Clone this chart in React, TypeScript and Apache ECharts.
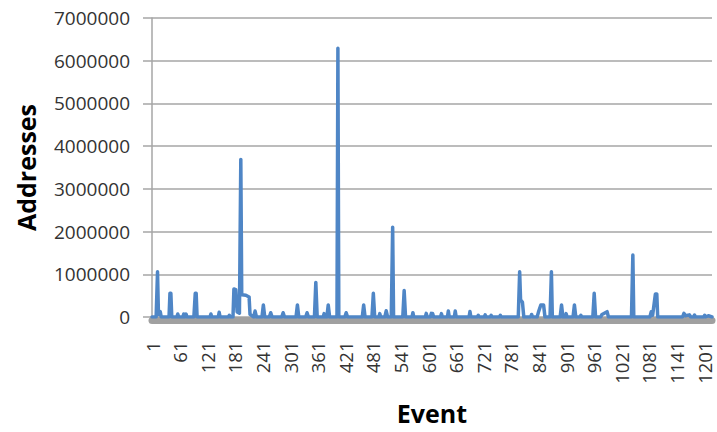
import React, { useEffect, useRef } from "react";
import * as echarts from "echarts";

// Event number at each plotted point
const eventIds: number[] = [
  1, 10, 13, 15, 19, 21, 38, 40, 42, 44, 55, 57, 59, 68, 70, 72, 73, 75, 77,
  92, 95, 97, 99, 127, 129, 131, 145, 147, 149, 167, 169, 171,
  177, 179, 183, 186, 191, 194, 196, 205, 212, 214, 222, 225, 228,
  240, 243, 246, 256, 259, 262, 283, 286, 289, 314, 317, 320, 335, 338, 341,
  354, 357, 360, 373, 375, 377, 381, 384, 387, 403, 405, 407, 420, 423, 426,
  458, 461, 464, 479, 482, 485, 494, 496, 498, 507, 510, 513, 521, 524, 526,
  546, 549, 552, 566, 568, 570, 595, 597, 599, 606, 608, 611, 613, 628, 630, 632,
  643, 645, 647, 658, 660, 662, 690, 692, 694, 708, 710, 712, 723, 725, 727,
  736, 738, 740, 756, 758, 760, 797, 800, 802, 806, 809, 824, 826, 828,
  838, 841, 846, 852, 855, 866, 869, 871, 888, 891, 894, 899, 901, 903,
  916, 919, 922, 931, 933, 935, 959, 962, 965, 976, 979, 990, 993,
  1043, 1046, 1048, 1083, 1086, 1089, 1095, 1098, 1100,
  1154, 1157, 1160, 1169, 1172, 1178, 1180, 1182, 1200, 1202, 1204, 1210, 1218,
];

// Addresses at each of those events
const addresses: number[] = [
  0, 0, 1060000, 60000, 124000, 0, 0, 555000, 555000, 0, 0, 70000, 0, 0, 70000, 0, 0, 70000, 0,
  0, 555000, 555000, 0, 0, 70000, 0, 0, 110000, 0, 0, 40000, 0,
  0, 655000, 640000, 120000, 90000, 3690000, 520000, 510000, 470000, 60000, 0, 140000, 0,
  0, 280000, 0, 0, 100000, 0, 0, 100000, 0, 0, 280000, 0, 0, 100000, 0,
  0, 810000, 0, 0, 80000, 0, 0, 280000, 0, 0, 6290000, 0, 0, 100000, 0,
  0, 280000, 0, 0, 555000, 0, 0, 80000, 0, 0, 145000, 0, 0, 2100000, 0,
  0, 620000, 0, 0, 100000, 0, 0, 85000, 0, 0, 85000, 80000, 0, 0, 80000, 0,
  0, 140000, 0, 0, 140000, 0, 0, 130000, 0, 0, 40000, 0, 0, 50000, 0,
  0, 40000, 0, 0, 40000, 0, 0, 1060000, 400000, 350000, 0, 0, 60000, 0,
  0, 120000, 280000, 280000, 0, 0, 1060000, 0, 0, 280000, 0, 0, 80000, 0,
  0, 280000, 0, 0, 40000, 0, 0, 555000, 0, 0, 60000, 125000, 0,
  0, 1450000, 0, 0, 125000, 40000, 540000, 540000, 0,
  0, 85000, 30000, 50000, 0, 0, 45000, 0, 0, 40000, 0, 30000, 0,
];

const xTickLabels: number[] = [
  1, 61, 121, 181, 241, 301, 361, 421, 481, 541, 601, 661, 721, 781, 841, 901,
  961, 1021, 1081, 1141, 1201,
];

const yMin = 0;
const yMax = 7000000;
const yStep = 1000000;
const xMin = 1;
const xMax = 1218;

export default function App() {
  const ref = useRef<HTMLDivElement>(null);

  useEffect(() => {
    if (!ref.current) return;
    const chart = echarts.init(ref.current, null, { renderer: "svg" });
    const gray = "#a6a6a6";
    const labelFont = { fontFamily: "Open Sans", fontSize: 19, color: "#333333" };
    const plain = (v: number) => String(v);
    chart.setOption({
      animation: false,
      backgroundColor: "#ffffff",
      grid: {
        left: 152,
        right: 5,
        top: 18,
        bottom: 115,
        containLabel: false,
        outerBoundsMode: "none",
      },
      xAxis: {
        type: "value",
        min: xMin,
        max: xMax,
        offset: 3.5,
        name: "Event",
        nameLocation: "middle",
        nameGap: 80,
        nameTextStyle: {
          fontFamily: "Open Sans",
          fontSize: 25,
          fontWeight: "bold",
          color: "#000000",
        },
        axisLine: { show: true, onZero: false, lineStyle: { color: "#a0a0a0", width: 7 } },
        axisTick: { show: false },
        splitLine: { show: false },
        axisLabel: {
          ...labelFont,
          fontSize: 18.5,
          lineHeight: 15,
          rotate: 90,
          margin: 21,
          customValues: xTickLabels,
          formatter: plain,
          showMinLabel: true,
          showMaxLabel: true,
        },
      },
      yAxis: {
        type: "value",
        min: yMin,
        max: yMax,
        interval: yStep,
        name: "Addresses",
        nameLocation: "middle",
        nameGap: 114,
        nameTextStyle: {
          fontFamily: "Open Sans",
          fontSize: 25,
          fontWeight: "bold",
          color: "#000000",
        },
        axisLine: { show: true, lineStyle: { color: gray, width: 1.5 } },
        axisTick: { show: true, length: 9, lineStyle: { color: gray, width: 1.5 } },
        splitLine: { show: true, lineStyle: { color: gray, width: 1.5 } },
        axisLabel: { ...labelFont, margin: 22, formatter: plain },
      },
      series: [
        {
          type: "line",
          data: eventIds.map((e, i) => [e, addresses[i]]),
          showSymbol: false,
          symbol: "none",
          lineStyle: { color: "#4f86c6", width: 3.5, join: "round", cap: "round" },
          z: 3,
        },
      ],
    });
    return () => chart.dispose();
  }, []);

  return (
    <div
      ref={ref}
      style={{ position: "absolute", left: 0, top: 0, width: 717, height: 432, background: "#ffffff" }}
    />
  );
}
